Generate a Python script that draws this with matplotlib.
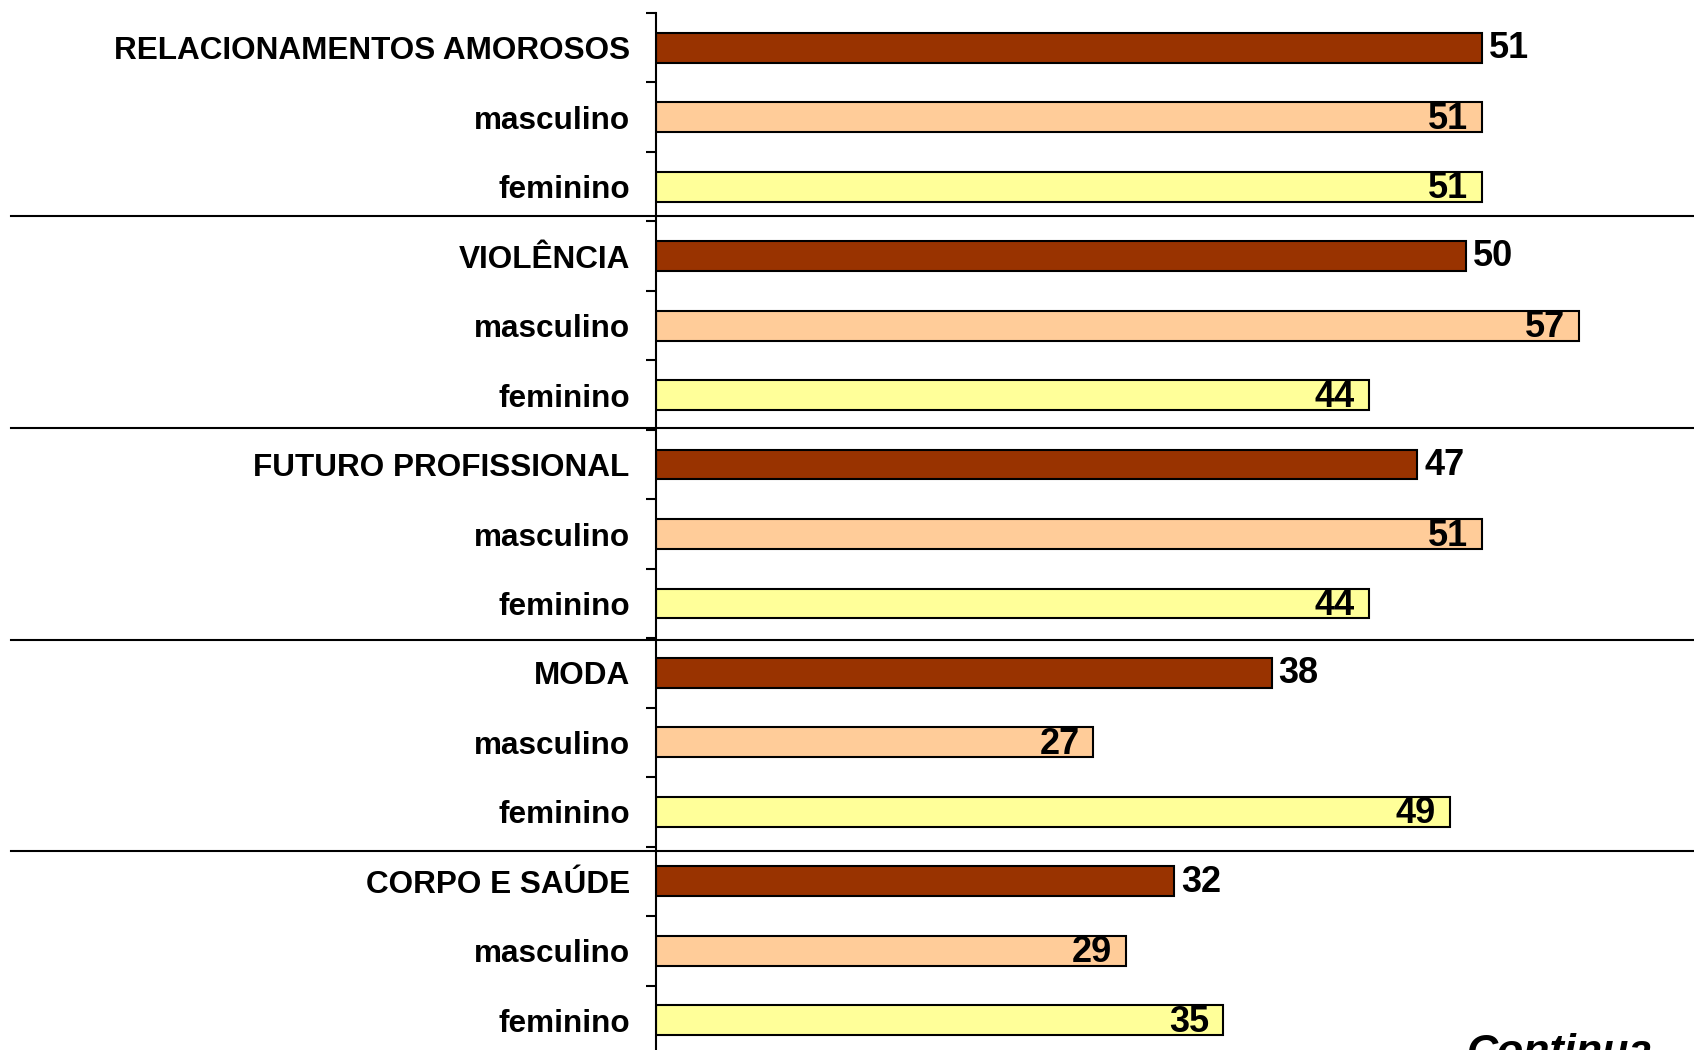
import matplotlib.pyplot as plt
import numpy as np

plt.rcParams["font.family"] = ["Liberation Sans", "DejaVu Sans"]

categories = ["RELACIONAMENTOS AMOROSOS", "VIOLÊNCIA", "FUTURO PROFISSIONAL", "MODA", "CORPO E SAÚDE"]
total = [51, 50, 47, 38, 32]
masculino = [51, 57, 51, 27, 29]
feminino = [51, 44, 44, 49, 35]

DARK = "#993300"
PEACH = "#FFCC99"
YELLOW = "#FFFF99"

W, H = 1694, 1050
fig = plt.figure(figsize=(W / 100, H / 100), dpi=100)
ax = fig.add_axes([0.3873, -0.0048, 0.6127, 0.9924])

labels, values, colors, inside = [], [], [], []
for cat, t, m, f in zip(categories, total, masculino, feminino):
    labels += [cat, "masculino", "feminino"]
    values += [t, m, f]
    colors += [DARK, PEACH, YELLOW]
    inside += [False, True, True]

ypos = np.arange(len(values))
bars = ax.barh(ypos, values, height=0.43, color=colors, edgecolor="black", linewidth=1.5)

for bar, v, ins in zip(bars, values, inside):
    y = bar.get_y() + bar.get_height() / 2
    if ins:
        ax.annotate(str(v), (v, y), xytext=(-10, -1.5), textcoords="offset points",
                    ha="right", va="center", fontsize=26, fontweight="bold")
    else:
        ax.annotate(str(v), (v, y), xytext=(5, -0.5), textcoords="offset points",
                    ha="left", va="center", fontsize=26, fontweight="bold")

ax.set_xlim(0, 64.07)
ax.set_ylim(len(values) - 0.5, -0.5)
ax.set_yticks(ypos, labels, fontsize=22.7, fontweight="bold")
ax.set_yticks(np.arange(-0.5, len(values), 1), minor=True)
ax.tick_params(axis="y", which="major", length=0, pad=19)
ax.tick_params(axis="y", which="minor", length=7, width=1.5, direction="out")
ax.set_xticks([])
for side in ["top", "right", "bottom"]:
    ax.spines[side].set_visible(False)
ax.spines["left"].set_linewidth(1.5)

# group separators (pixel rows from the top of the page)
for ypx in [216, 428, 640, 851]:
    fig.add_artist(plt.Line2D([11 / W, 1.0], [1 - ypx / H, 1 - ypx / H],
                              color="black", linewidth=1.5))

fig.text(0.976, -0.013, "Continua", ha="right", va="baseline",
         fontsize=31, fontweight="bold", fontstyle="italic")

fig.savefig("out.png", dpi=100)
